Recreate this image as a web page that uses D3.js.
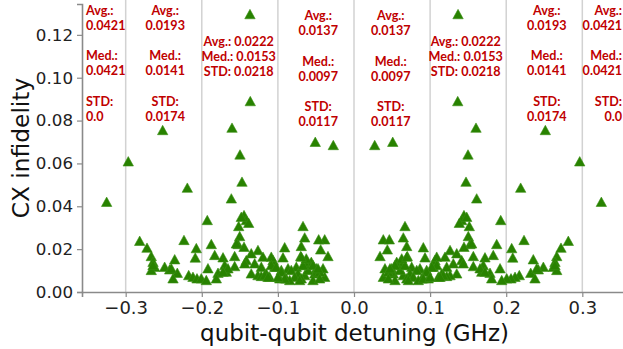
<!DOCTYPE html>
<html>
<head>
<meta charset="utf-8">
<script src="https://cdn.jsdelivr.net/npm/d3@7"></script>
<style>
  html, body { margin: 0; padding: 0; background: #ffffff; }
  svg { display: block; }
</style>
</head>
<body>
<svg id="chart" width="623" height="349"></svg>
<script>
// CX infidelity vs. qubit-qubit detuning. Each coupled pair is measured in
// both directions, so every (|detuning|, infidelity) sample appears at
// +detuning and -detuning.
const detuningAbs = [
  0.1367, 0.1363, 0.1603, 0.1498, 0.2514, 0.2966, 0.3250, 0.0272, 0.0509, 0.1472, 0.1612, 0.2190,
  0.2234, 0.2072, 0.2086, 0.2356, 0.2816, 0.2720, 0.2664, 0.2641, 0.2619, 0.2664, 0.2488, 0.2422,
  0.2322, 0.2378, 0.2172, 0.2116, 0.2063, 0.2641, 0.2401,
  0.1445, 0.1415, 0.1384, 0.1481, 0.1515, 0.1928, 0.1502, 0.1524, 0.1445, 0.1875, 0.1262, 0.1350,
  0.1830, 0.1568, 0.1721, 0.1196, 0.1415, 0.1305, 0.1699, 0.1568, 0.1218, 0.1919, 0.1678, 0.1787,
  0.1350, 0.1262, 0.1152, 0.1809, 0.2007, 0.1941, 0.1218, 0.1436, 0.1656, 0.1721, 0.1042, 0.1108,
  0.1174, 0.1064, 0.1087, 0.1546, 0.1087, 0.1130,
  0.0670, 0.0385, 0.0464, 0.0648, 0.0438, 0.0693, 0.0342, 0.0911, 0.0700, 0.0933, 0.0561, 0.0627,
  0.0407, 0.0495, 0.0758, 0.0867, 0.0955, 0.1021, 0.0516, 0.0648, 0.0736, 0.0824, 0.0539, 0.0693,
  0.0779, 0.0890, 0.0976, 0.0385, 0.0451, 0.0604, 0.0670, 0.0539, 0.0473, 0.0627, 0.0693, 0.0955,
  0.0451, 0.0714, 0.0845, 0.0911, 0.0999
];
const infidelity = [
  0.1297, 0.0891, 0.0767, 0.0642, 0.0756, 0.0610, 0.0421, 0.0686, 0.0701, 0.0515, 0.0437, 0.0487,
  0.0243, 0.0205, 0.0161, 0.0153, 0.0239, 0.0207, 0.0168, 0.0141, 0.0118, 0.0103, 0.0118, 0.0106,
  0.0090, 0.0064, 0.0079, 0.0071, 0.0064, 0.0126, 0.0111,
  0.0359, 0.0336, 0.0323, 0.0351, 0.0308, 0.0336, 0.0261, 0.0224, 0.0211, 0.0224, 0.0196, 0.0181,
  0.0173, 0.0168, 0.0162, 0.0165, 0.0149, 0.0134, 0.0126, 0.0121, 0.0118, 0.0111, 0.0095, 0.0090,
  0.0087, 0.0079, 0.0087, 0.0064, 0.0064, 0.0056, 0.0075, 0.0134, 0.0111, 0.0095, 0.0118, 0.0071,
  0.0079, 0.0149, 0.0165, 0.0227, 0.0126, 0.0071,
  0.0308, 0.0246, 0.0246, 0.0255, 0.0199, 0.0215, 0.0168, 0.0209, 0.0168, 0.0162, 0.0141, 0.0126,
  0.0111, 0.0111, 0.0118, 0.0111, 0.0103, 0.0118, 0.0087, 0.0079, 0.0087, 0.0103, 0.0056, 0.0064,
  0.0071, 0.0064, 0.0064, 0.0071, 0.0095, 0.0103, 0.0126, 0.0126, 0.0111, 0.0157, 0.0165, 0.0095,
  0.0064, 0.0056, 0.0056, 0.0064, 0.0071
];

// Per-bin statistics, bins ordered from -0.35 GHz to +0.35 GHz
const binAvg = ["0.0421", "0.0193", "0.0222", "0.0137", "0.0137", "0.0222", "0.0193", "0.0421"];
const binMed = ["0.0421", "0.0141", "0.0153", "0.0097", "0.0097", "0.0153", "0.0141", "0.0421"];
const binStd = ["0.0", "0.0174", "0.0218", "0.0117", "0.0117", "0.0218", "0.0174", "0.0"];

const xTicks = [-0.3, -0.2, -0.1, 0.0, 0.1, 0.2, 0.3];
const yTicks = [0.00, 0.02, 0.04, 0.06, 0.08, 0.10, 0.12];

// Placement of each bin's statistics block (x in GHz, layout style)
const statLayout = [
  { x: -0.3522, anchor: "start",  style: "stacked", top: 10.5 },
  { x: -0.2481, anchor: "middle", style: "stacked", top: 10.5 },
  { x: -0.1515, anchor: "middle", style: "inline",  top: 41 },
  { x: -0.0470, anchor: "middle", style: "stacked", top: 15.7 },
  { x:  0.0483, anchor: "middle", style: "stacked", top: 15.7 },
  { x:  0.1468, anchor: "middle", style: "inline",  top: 41 },
  { x:  0.2533, anchor: "middle", style: "stacked", top: 10.5 },
  { x:  0.3523, anchor: "end",    style: "stacked", top: 10.5 }
];

const svg = d3.select("#chart");
const plot = { left: 82, right: 626, top: 4, bottom: 292 };

const x = d3.scaleLinear().domain([-0.3574, 0.3574]).range([plot.left, plot.right]);
const y = d3.scaleLinear().domain([0, 0.1344]).range([plot.bottom, plot.top]);

const fmtX = v => (v < 0 ? "\u2212" : "") + Math.abs(v).toFixed(1);
const fmtY = v => v.toFixed(2);

// vertical grid lines
svg.append("g")
  .selectAll("line")
  .data(xTicks)
  .join("line")
  .attr("x1", d => x(d)).attr("x2", d => x(d))
  .attr("y1", 0).attr("y2", plot.bottom)
  .attr("stroke", "#d2d2d2")
  .attr("stroke-width", 1.5);

// x axis
const xAxis = svg.append("g")
  .attr("transform", `translate(0,${plot.bottom})`)
  .call(d3.axisBottom(x).tickValues(xTicks).tickFormat(fmtX).tickSize(5).tickPadding(4.5));
xAxis.select(".domain").attr("stroke", "#8a8a8a").attr("stroke-width", 1.6);
xAxis.selectAll(".tick line").attr("stroke", "#8a8a8a").attr("stroke-width", 1.2);
xAxis.selectAll(".tick text")
  .attr("font-family", "DejaVu Sans")
  .attr("font-size", 18)
  .attr("fill", "#222");

// y axis
const yAxis = svg.append("g")
  .attr("transform", `translate(${plot.left},0)`)
  .call(d3.axisLeft(y).tickValues(yTicks).tickFormat(fmtY).tickSize(5).tickPadding(4));
yAxis.select(".domain").attr("stroke", "#8a8a8a").attr("stroke-width", 1.6);
yAxis.selectAll(".tick line").attr("stroke", "#8a8a8a").attr("stroke-width", 1.2);
yAxis.selectAll(".tick text")
  .attr("font-family", "DejaVu Sans")
  .attr("font-size", 16.7)
  .attr("fill", "#222");

// axis titles
svg.append("text")
  .attr("x", 354.5).attr("y", 340.5)
  .attr("text-anchor", "middle")
  .attr("font-family", "DejaVu Sans")
  .attr("font-size", 23)
  .attr("fill", "#111")
  .text("qubit-qubit detuning (GHz)");

svg.append("text")
  .attr("transform", "translate(29,148) rotate(-90)")
  .attr("text-anchor", "middle")
  .attr("font-family", "DejaVu Sans")
  .attr("font-size", 23.3)
  .attr("fill", "#111")
  .text("CX infidelity");

// samples, mirrored to both signs of the detuning
const points = [];
detuningAbs.forEach((d, i) => {
  points.push({ d: d, v: infidelity[i] });
  points.push({ d: -d, v: infidelity[i] });
});

const hw = 5.2, hh = 4.7;
const tri = `M0,${-hh}L${hw},${hh}L${-hw},${hh}Z`;
svg.append("g")
  .selectAll("path")
  .data(points)
  .join("path")
  .attr("d", tri)
  .attr("transform", p => `translate(${x(p.d)},${y(p.v)})`)
  .attr("fill", "#288200")
  .attr("stroke", "#3a8f14")
  .attr("stroke-width", 0.6);

// per-bin statistics
const statFont = { family: "Lato, 'Liberation Sans', sans-serif", size: 12.6, color: "#c00000" };
const statG = svg.append("g");
statLayout.forEach((L, i) => {
  let lines;
  if (L.style === "stacked") {
    lines = [
      ["Avg.:", 0], [binAvg[i], 15],
      ["Med.:", 45.3], [binMed[i], 60.3],
      ["STD:", 90.6], [binStd[i], 105.6]
    ];
  } else {
    lines = [
      ["Avg.: " + binAvg[i], 0],
      ["Med.: " + binMed[i], 15],
      ["STD: " + binStd[i], 30]
    ];
  }
  lines.forEach(([t, off]) => {
    statG.append("text")
      .attr("x", x(L.x))
      .attr("y", L.top + off)
      .attr("dy", "0.36em")
      .attr("text-anchor", L.anchor)
      .attr("font-family", statFont.family)
      .attr("font-weight", 700)
      .attr("font-size", statFont.size)
      .attr("fill", statFont.color)
      .text(t);
  });
});
</script>
</body>
</html>
